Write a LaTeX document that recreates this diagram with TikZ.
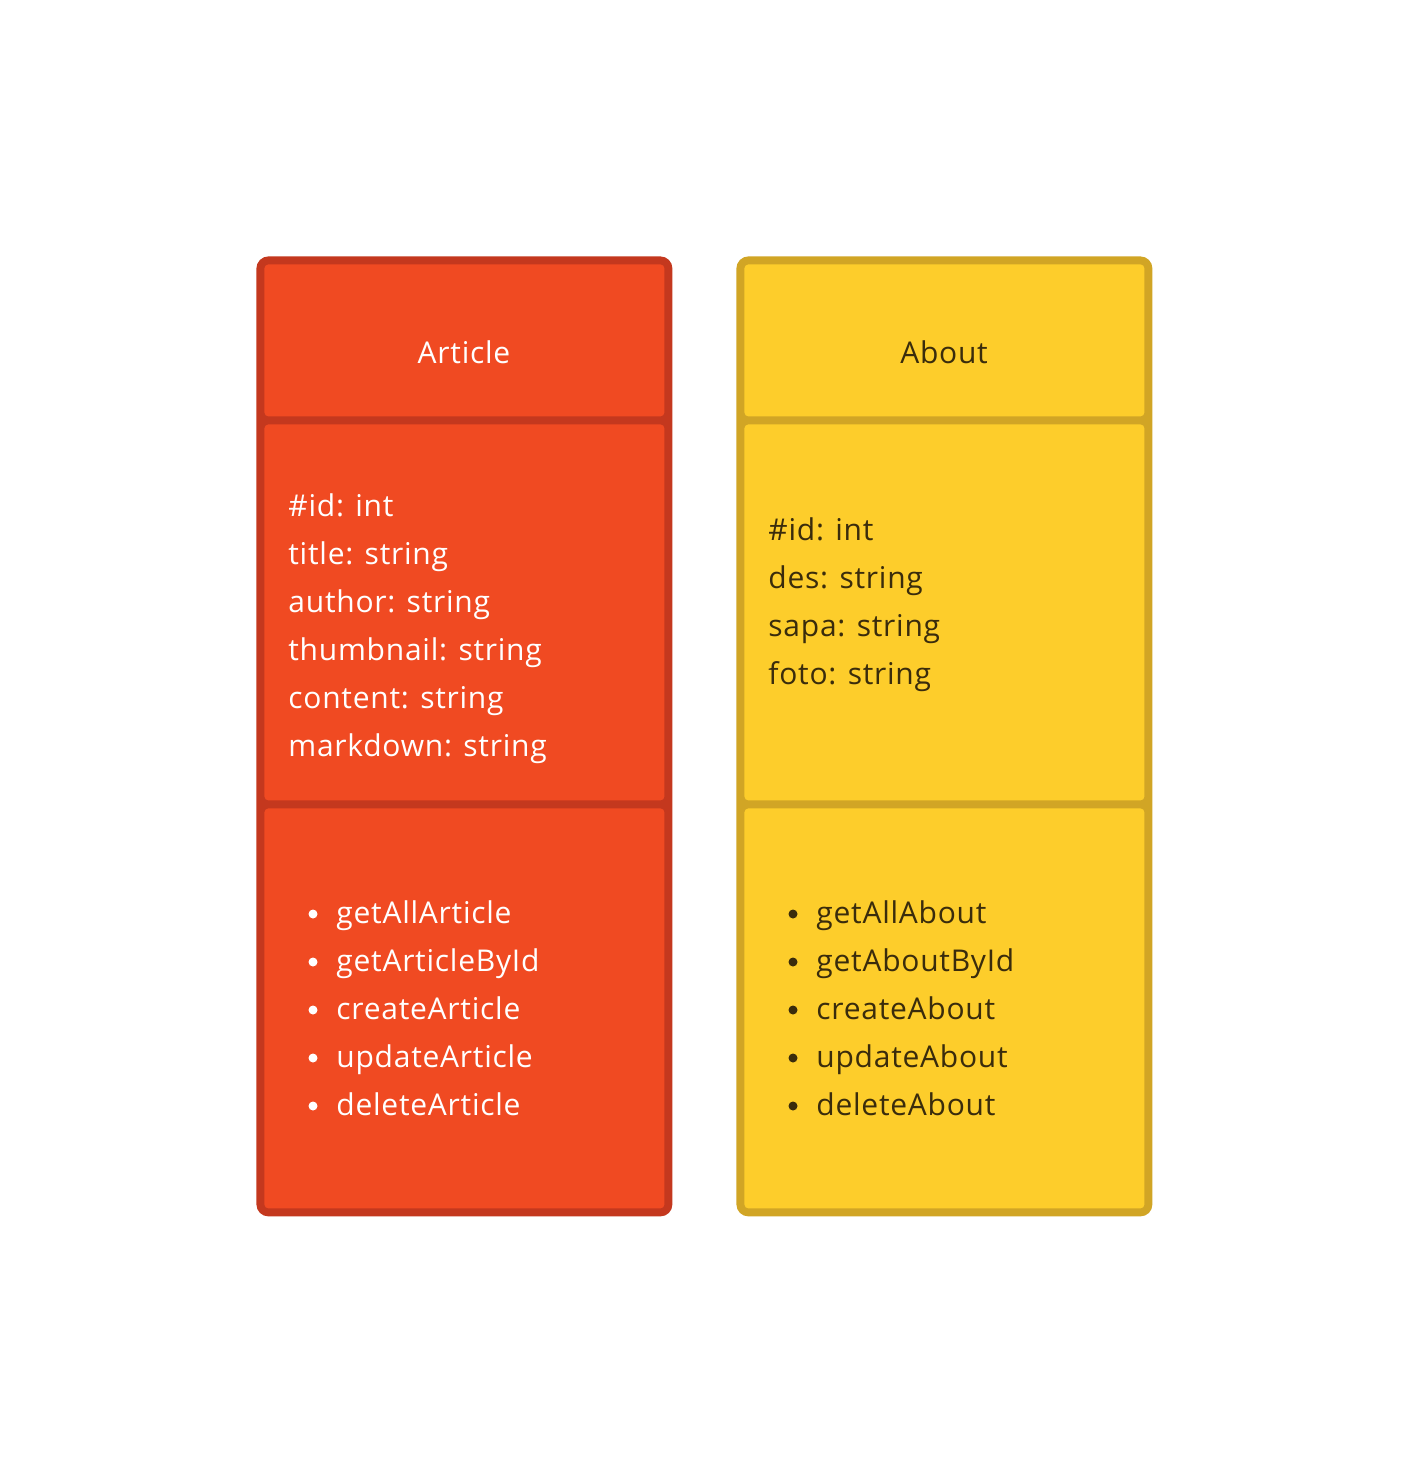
\documentclass[tikz,border=0pt]{standalone}
\usepackage{fontspec}
\setmainfont[LetterSpace=2.5]{Open Sans}
\usepackage{tikz}
\usetikzlibrary{positioning}

\definecolor{artfill}{HTML}{F04A22}
\definecolor{artline}{HTML}{C4381E}
\definecolor{abofill}{HTML}{FDCD2B}
\definecolor{aboline}{HTML}{D1A525}
\definecolor{abotext}{HTML}{3A2C0C}

\tikzset{
  frame/.style={rectangle, rounded corners=6pt, inner sep=0pt, anchor=north west,
    minimum width=208pt, minimum height=480pt},
  panel/.style={rectangle, rounded corners=2pt, inner sep=0pt, anchor=north west,
    minimum width=200pt},
  label/.style={font=\fontsize{15pt}{24pt}\selectfont, inner sep=0pt},
  attr/.style={label, anchor=base west},
  dot/.style={circle, inner sep=0pt, minimum size=4.5pt},
}

\begin{document}
\begin{tikzpicture}[x=0.5pt, y=-0.5pt]
  \useasboundingbox[fill=white] (0,0) rectangle (1408,1472);

  % Article
  \node[frame, fill=artline] (artframe) at (256,256) {};
  \node[panel, fill=artfill, minimum height=76pt]  (arthead)  at (264,264) {};
  \node[panel, fill=artfill, minimum height=188pt] (artattr)  at (264,424) {};
  \node[panel, fill=artfill, minimum height=200pt] (artmeth)  at (264,808) {};
  \node[label, text=white, anchor=base] (artname) at (464,363) {Article};
  \foreach \t [count=\i] in {\#id: int, title: string, author: string,
      thumbnail: string, content: string, markdown: string}
    \node[attr, text=white] (artattr\i) at (288,{516+48*(\i-1)}) {\t};
  \foreach \t [count=\i] in {getAllArticle, getArticleById, createArticle,
      updateArticle, deleteArticle} {
    \node[attr, text=white] (artmeth\i) at (336,{923+48*(\i-1)}) {\t};
    \node[dot, fill=white] (artdot\i) at (313,{914+48*(\i-1)}) {};
  }

  % About
  \node[frame, fill=aboline] (aboframe) at (736,256) {};
  \node[panel, fill=abofill, minimum height=76pt]  (abohead)  at (744,264) {};
  \node[panel, fill=abofill, minimum height=188pt] (aboattr)  at (744,424) {};
  \node[panel, fill=abofill, minimum height=200pt] (abometh)  at (744,808) {};
  \node[label, text=abotext, anchor=base] (aboname) at (944,363) {About};
  \foreach \t [count=\i] in {\#id: int, des: string, sapa: string, foto: string}
    \node[attr, text=abotext] (aboattr\i) at (768,{540+48*(\i-1)}) {\t};
  \foreach \t [count=\i] in {getAllAbout, getAboutById, createAbout,
      updateAbout, deleteAbout} {
    \node[attr, text=abotext] (abometh\i) at (816,{923+48*(\i-1)}) {\t};
    \node[dot, fill=abotext] (abodot\i) at (793,{914+48*(\i-1)}) {};
  }
\end{tikzpicture}
\end{document}
